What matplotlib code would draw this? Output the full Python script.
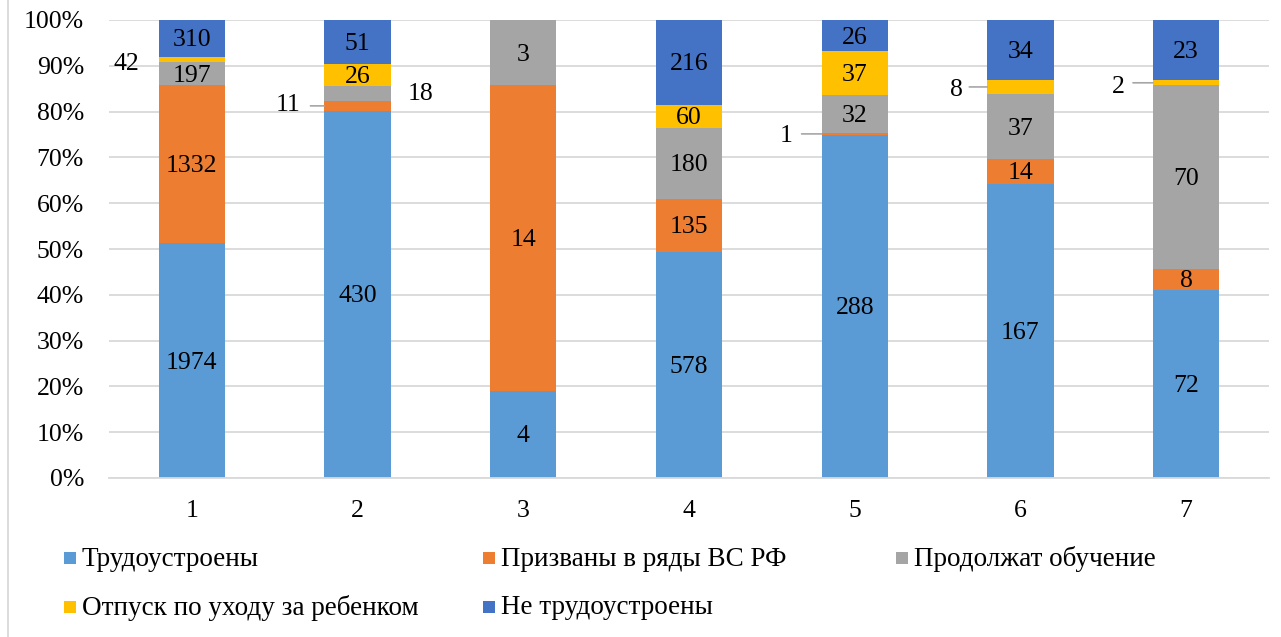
import matplotlib
matplotlib.use("Agg")
import matplotlib.pyplot as plt
from matplotlib.patches import Rectangle
from matplotlib.lines import Line2D
import numpy as np

plt.rcParams['font.family'] = ['Liberation Serif', 'DejaVu Serif']

categories = ['1', '2', '3', '4', '5', '6', '7']
series_names = ['Трудоустроены', 'Призваны в ряды ВС РФ', 'Продолжат обучение',
                'Отпуск по уходу за ребенком', 'Не трудоустроены']
employed = [1974, 430, 4, 578, 288, 167, 72]
drafted = [1332, 11, 14, 135, 1, 14, 8]
studying = [197, 18, 3, 180, 32, 37, 70]
leave = [42, 26, 0, 60, 37, 8, 2]
unemployed = [310, 51, 0, 216, 26, 34, 23]
yticks = [0, 10, 20, 30, 40, 50, 60, 70, 80, 90, 100]

colors = ['#5B9BD5', '#ED7D31', '#A5A5A5', '#FFC000', '#4472C4']

# labels drawn outside the bars: (series, category) -> (dx px, dy px, leader length px)
outside = {
    (3, 0): (-32, -5, 0),
    (1, 1): (-36, 1, 14),
    (2, 1): (30, -1, 0),
    (1, 4): (-35, -2, 20),
    (3, 5): (-31, -3, 18),
    (3, 6): (-35, -4, 20),
}

W, H = 1281, 637
fig = plt.figure(figsize=(W / 100, H / 100), dpi=100)
ax = fig.add_axes([109 / W, 1 - 478 / H, (1269 - 109) / W, (478 - 20) / H])

data = np.array([employed, drafted, studying, leave, unemployed], dtype=float)
totals = data.sum(axis=0)
pct = data / totals * 100
x = np.arange(len(categories))
bw = 0.4
bottom = np.zeros(len(categories))
fs = 18.5
for i, name in enumerate(series_names):
    ax.bar(x, pct[i], bw, bottom=bottom, color=colors[i], label=name, zorder=2)
    for j in range(len(categories)):
        v = data[i, j]
        if v == 0:
            continue
        yc = bottom[j] + pct[i, j] / 2
        if (i, j) in outside:
            dx, dy, lead = outside[(i, j)]
            edge = x[j] - bw / 2 if dx < 0 else x[j] + bw / 2
            ax.annotate(f'{int(v)}', xy=(edge, yc), xytext=(dx, dy),
                        textcoords='offset pixels', ha='center', va='center',
                        fontsize=fs, color='#000000', zorder=4)
            if lead:
                ax.annotate('', xy=(edge, yc), xytext=(-lead, 0),
                            textcoords='offset pixels',
                            arrowprops=dict(arrowstyle='-', color='#A6A6A6', lw=1.2,
                                            shrinkA=0, shrinkB=0), zorder=4)
        else:
            ax.annotate(f'{int(v)}', xy=(x[j], yc), xytext=(0, -2),
                        textcoords='offset pixels', ha='center', va='center',
                        fontsize=fs, color='#000000', zorder=4)
    bottom += pct[i]

ax.set_xlim(-0.5, len(categories) - 0.5)
ax.set_ylim(0, 100)
ax.set_yticks(yticks)
ax.set_yticklabels([f'{t}%' for t in yticks])
ax.set_xticks(x)
ax.set_xticklabels(categories)
ax.tick_params(axis='both', length=0, labelsize=fs, colors='#000000')
ax.tick_params(axis='y', pad=18)
ax.tick_params(axis='x', pad=16)
ax.grid(axis='y', color='#D9D9D9', linewidth=1.3, zorder=0)
for s in ['top', 'right', 'left']:
    ax.spines[s].set_visible(False)
ax.spines['bottom'].set_color('#D9D9D9')
ax.spines['bottom'].set_linewidth(1.3)
ax.set_axisbelow(True)

# chart frame left edge
fig.add_artist(Line2D([7.5 / W, 7.5 / W], [0, 1], color='#D9D9D9', lw=1.3,
                      transform=fig.transFigure))

# legend drawn manually
leg_pos = [(64, 558), (483, 558), (896, 558), (64, 607), (483, 607)]
sq = 12
for (px, py), name, c in zip(leg_pos, series_names, colors):
    fig.add_artist(Rectangle((px / W, 1 - (py + sq / 2) / H), sq / W, sq / H,
                             transform=fig.transFigure, facecolor=c, edgecolor='none'))
    fig.text((px + sq + 6) / W, 1 - (py + 1) / H, name, ha='left', va='center',
             fontsize=19.5, color='#000000')

fig.savefig('out.png', dpi=100)
